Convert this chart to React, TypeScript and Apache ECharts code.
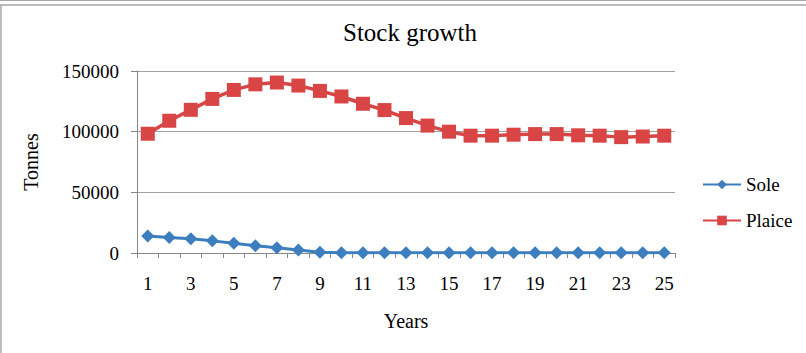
import React, { useEffect, useRef } from "react";
import * as echarts from "echarts";

const years = Array.from({ length: 25 }, (_, i) => String(i + 1));
const sole = [14000, 12800, 11700, 10000, 8000, 6000, 4400, 2500, 600, 200, 200, 200, 200, 200, 200, 200, 200, 200, 200, 200, 200, 200, 200, 200, 200];
const plaice = [98300, 109000, 118000, 127000, 134400, 139000, 140500, 138000, 133600, 129000, 123000, 117800, 111200, 105000, 100000, 96700, 96700, 97500, 98000, 98000, 97000, 96700, 95500, 96000, 96700];
const yTicks = { min: 0, max: 150000, interval: 50000 };

const FONT = "'Liberation Serif', serif";

export default function App() {
  const ref = useRef<HTMLDivElement>(null);
  useEffect(() => {
    const chart = echarts.init(ref.current!, null, { renderer: "svg" });
    chart.setOption({
      animation: false,
      backgroundColor: "#fff",
      textStyle: { fontFamily: FONT, fontSize: 18 },
      title: {
        text: "Stock growth",
        left: 405,
        top: 15,
        textAlign: "center",
        textStyle: { fontFamily: FONT, fontSize: 25, fontWeight: "normal", color: "#000" },
      },
      grid: { left: 137, right: 131, top: 71, bottom: 100, containLabel: false },
      legend: {
        orient: "vertical",
        left: 697,
        top: 170,
        itemWidth: 38,
        itemHeight: 12,
        itemGap: 17,
        data: ["Sole", "Plaice"],
        textStyle: { fontFamily: FONT, fontSize: 19, color: "#000" },
      },
      xAxis: {
        type: "category",
        data: years,
        boundaryGap: true,
        name: "Years",
        nameLocation: "middle",
        nameGap: 58,
        nameTextStyle: { fontFamily: FONT, fontSize: 20, color: "#000" },
        axisLine: { lineStyle: { color: "#868686", width: 1 } },
        axisTick: { show: true, interval: 0, length: 5, lineStyle: { color: "#868686" } },
        axisLabel: { interval: 1, margin: 21, fontFamily: FONT, fontSize: 19, color: "#000" },
        splitLine: { show: false },
      },
      yAxis: {
        type: "value",
        min: yTicks.min,
        max: yTicks.max,
        interval: yTicks.interval,
        name: "Tonnes",
        nameLocation: "middle",
        nameGap: 96,
        nameRotate: 90,
        nameTextStyle: { fontFamily: FONT, fontSize: 20, color: "#000" },
        axisLine: { show: true, lineStyle: { color: "#868686", width: 1 } },
        axisTick: { show: true, length: 6, lineStyle: { color: "#868686" } },
        axisLabel: { margin: 18, fontFamily: FONT, fontSize: 19, color: "#000", formatter: (v: number) => String(v) },
        splitLine: { lineStyle: { color: "#a0a0a0", width: 1 } },
      },
      series: [
        {
          name: "Sole",
          type: "line",
          data: sole,
          symbol: "diamond",
          symbolSize: 13,
          itemStyle: { color: "#3C7EBE" },
          lineStyle: { color: "#3C7EBE", width: 3 },
        },
        {
          name: "Plaice",
          type: "line",
          data: plaice,
          symbol: "rect",
          symbolSize: 14,
          itemStyle: { color: "#D94444" },
          lineStyle: { color: "#D94444", width: 3.5 },
        },
      ],
      graphic: [
        { type: "line", shape: { x1: 0, y1: 0.5, x2: 806, y2: 0.5 }, style: { stroke: "#a6a6a6", lineWidth: 1 } },
        { type: "line", shape: { x1: 0, y1: 5, x2: 806, y2: 5 }, style: { stroke: "#a6a6a6", lineWidth: 1.5 } },
        { type: "line", shape: { x1: 1, y1: 5, x2: 1, y2: 353 }, style: { stroke: "#a6a6a6", lineWidth: 1.5 } },
      ],
    });
    return () => chart.dispose();
  }, []);
  return <div ref={ref} style={{ width: 806, height: 353, position: "absolute", left: 0, top: 0 }} />;
}
